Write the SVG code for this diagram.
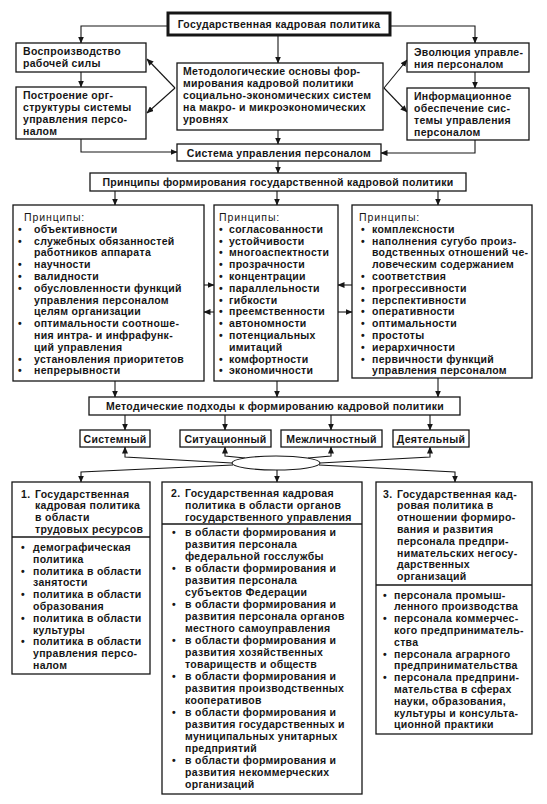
<svg xmlns="http://www.w3.org/2000/svg" width="547" height="804" viewBox="0 0 547 804">
<defs>
<style>
text{font-family:"Liberation Sans",Arial,sans-serif;font-size:10.5px;font-weight:bold;letter-spacing:0.3px;fill:#161616}
text.h{font-weight:normal;letter-spacing:0.9px}
.b{fill:#fff;stroke:#161616;stroke-width:1.3}
.thick{fill:#fff;stroke:#161616;stroke-width:3}
.dv{stroke:#161616;stroke-width:1.3}
.c path{fill:none;stroke:#161616;stroke-width:1.1}
.c .a{marker-end:url(#ah)}
.m{text-anchor:middle}
</style>
<marker id="ah" markerWidth="7" markerHeight="6" refX="6.5" refY="3" orient="auto" markerUnits="userSpaceOnUse">
<path d="M0,0 L7,3 L0,6 z" fill="#161616"/>
</marker>
</defs>
<rect width="547" height="804" fill="#fff"/>

<g class="c" id="connectors">
<path class="a" d="M168,26 H81 V43"/>
<path class="a" d="M390,26 H475 V43"/>
<path class="a" d="M278,36 V63"/>
<path class="a" d="M81,72 V87"/>
<path class="a" d="M475,72 V88"/>
<path class="a" d="M81,139 V152 H177"/>
<path class="a" d="M475,140 V153 H381"/>
<path class="a" d="M175,88 L147,59"/>
<path class="a" d="M175,88 L147,113"/>
<path class="a" d="M384,88 L407,60"/>
<path class="a" d="M384,88 L407,112"/>
<path class="a" d="M278,130 V144"/>
<path class="a" d="M278,161 V173"/>
<path class="a" d="M115,191 V205"/>
<path class="a" d="M277,191 V205"/>
<path class="a" d="M438,191 V205"/>
<path class="a" d="M204,285 H214"/>
<path class="a" d="M214,312 H204"/>
<path class="a" d="M352,285 H338"/>
<path class="a" d="M338,312 H352"/>
<path class="a" d="M115,381 V397"/>
<path class="a" d="M277,381 V397"/>
<path class="a" d="M438,378 V397"/>
<path class="a" d="M125,415 V430"/>
<path class="a" d="M225,415 V430"/>
<path class="a" d="M331,415 V430"/>
<path class="a" d="M430,415 V430"/>
<path class="a" d="M232,463 L125,457 V447"/>
<path class="a" d="M245,458 L225,456 V447"/>
<path class="a" d="M308,458 L331,456 V447"/>
<path class="a" d="M320,463 L430,457 V447"/>
<path class="a" d="M233,465 L81,472 V482"/>
<path class="a" d="M277,470 V482"/>
<path class="a" d="M319,465 L455,472 V482"/>
<ellipse cx="276" cy="463" rx="44" ry="7" fill="#fff" stroke="#161616" stroke-width="1.1"/>
</g>

<g id="title">
<rect class="thick" x="168" y="13" width="222" height="22"/>
<text class="m" x="279" y="28">Государственная кадровая политика</text>
</g>

<g id="reproduction">
<rect class="b" x="16" y="43" width="130" height="29"/>
<text x="23" y="55">Воспроизводство</text>
<text x="23" y="67">рабочей силы</text>
</g>

<g id="orgstructure">
<rect class="b" x="16" y="87" width="130" height="52"/>
<text x="23" y="99">Построение орг-</text>
<text x="23" y="111">структуры системы</text>
<text x="23" y="123">управления персо-</text>
<text x="23" y="135">налом</text>
</g>

<g id="methodology">
<rect class="b" x="177" y="63" width="206" height="67"/>
<text x="183" y="75">Методологические основы фор-</text>
<text x="183" y="87">мирования кадровой политики</text>
<text x="183" y="99">социально-экономических систем</text>
<text x="183" y="111">на макро- и микроэкономических</text>
<text x="183" y="123">уровнях</text>
</g>

<g id="evolution">
<rect class="b" x="407" y="43" width="122" height="29"/>
<text x="414" y="56">Эволюция управле-</text>
<text x="414" y="68">ния персоналом</text>
</g>

<g id="infosupport">
<rect class="b" x="407" y="88" width="122" height="52"/>
<text x="414" y="100">Информационное</text>
<text x="414" y="112">обеспечение сис-</text>
<text x="414" y="124">темы управления</text>
<text x="414" y="136">персоналом</text>
</g>

<g id="system">
<rect class="b" x="177" y="144" width="204" height="17"/>
<text class="m" x="279" y="156.5">Система управления персоналом</text>
</g>

<g id="principles-title">
<rect class="b" x="90" y="173" width="376" height="18"/>
<text class="m" x="278" y="186">Принципы формирования государственной кадровой политики</text>
</g>

<g id="principles-left">
<rect class="b" x="13" y="205" width="191" height="176"/>
<text class="h" x="24" y="221">Принципы:</text>
<text y="232.8"><tspan x="18">•</tspan><tspan x="34">объективности</tspan></text>
<text y="244.6"><tspan x="18">•</tspan><tspan x="34">служебных обязанностей</tspan></text>
<text x="34" y="256.4">работников аппарата</text>
<text y="268.2"><tspan x="18">•</tspan><tspan x="34">научности</tspan></text>
<text y="280"><tspan x="18">•</tspan><tspan x="34">валидности</tspan></text>
<text y="291.8"><tspan x="18">•</tspan><tspan x="34">обусловленности функций</tspan></text>
<text x="34" y="303.6">управления персоналом</text>
<text x="34" y="315.4">целям организации</text>
<text y="327.2"><tspan x="18">•</tspan><tspan x="34">оптимальности соотноше-</tspan></text>
<text x="34" y="339">ния интра- и инфрафунк-</text>
<text x="34" y="350.8">ций управления</text>
<text y="362.6"><tspan x="18">•</tspan><tspan x="34">установления приоритетов</tspan></text>
<text y="374.4"><tspan x="18">•</tspan><tspan x="34">непрерывности</tspan></text>
</g>

<g id="principles-middle">
<rect class="b" x="214" y="205" width="124" height="176"/>
<text class="h" x="219" y="221">Принципы:</text>
<text y="232.8"><tspan x="219">•</tspan><tspan x="229">согласованности</tspan></text>
<text y="244.6"><tspan x="219">•</tspan><tspan x="229">устойчивости</tspan></text>
<text y="256.4"><tspan x="219">•</tspan><tspan x="229">многоаспектности</tspan></text>
<text y="268.2"><tspan x="219">•</tspan><tspan x="229">прозрачности</tspan></text>
<text y="280"><tspan x="219">•</tspan><tspan x="229">концентрации</tspan></text>
<text y="291.8"><tspan x="219">•</tspan><tspan x="229">параллельности</tspan></text>
<text y="303.6"><tspan x="219">•</tspan><tspan x="229">гибкости</tspan></text>
<text y="315.4"><tspan x="219">•</tspan><tspan x="229">преемственности</tspan></text>
<text y="327.2"><tspan x="219">•</tspan><tspan x="229">автономности</tspan></text>
<text y="339"><tspan x="219">•</tspan><tspan x="229">потенциальных</tspan></text>
<text x="229" y="350.8">имитаций</text>
<text y="362.6"><tspan x="219">•</tspan><tspan x="229">комфортности</tspan></text>
<text y="374.4"><tspan x="219">•</tspan><tspan x="229">экономичности</tspan></text>
</g>

<g id="principles-right">
<rect class="b" x="352" y="205" width="180" height="173"/>
<text class="h" x="359" y="221">Принципы:</text>
<text y="232.8"><tspan x="361">•</tspan><tspan x="372">комплексности</tspan></text>
<text y="244.6"><tspan x="361">•</tspan><tspan x="372">наполнения сугубо произ-</tspan></text>
<text x="372" y="256.4">водственных отношений че-</text>
<text x="372" y="268.2">ловеческим содержанием</text>
<text y="280"><tspan x="361">•</tspan><tspan x="372">соответствия</tspan></text>
<text y="291.8"><tspan x="361">•</tspan><tspan x="372">прогрессивности</tspan></text>
<text y="303.6"><tspan x="361">•</tspan><tspan x="372">перспективности</tspan></text>
<text y="315.4"><tspan x="361">•</tspan><tspan x="372">оперативности</tspan></text>
<text y="327.2"><tspan x="361">•</tspan><tspan x="372">оптимальности</tspan></text>
<text y="339"><tspan x="361">•</tspan><tspan x="372">простоты</tspan></text>
<text y="350.8"><tspan x="361">•</tspan><tspan x="372">иерархичности</tspan></text>
<text y="362.6"><tspan x="361">•</tspan><tspan x="372">первичности функций</tspan></text>
<text x="372" y="374.4">управления персоналом</text>
</g>

<g id="approaches-title">
<rect class="b" x="89" y="397" width="371" height="18"/>
<text class="m" x="275" y="410">Методические подходы к формированию кадровой политики</text>
</g>

<g id="systemic">
<rect class="b" x="80" y="430" width="70" height="17"/>
<text class="m" x="115" y="442.5">Системный</text>
</g>
<g id="situational">
<rect class="b" x="180" y="430" width="91" height="17"/>
<text class="m" x="225.5" y="442.5">Ситуационный</text>
</g>
<g id="interpersonal">
<rect class="b" x="281" y="430" width="101" height="17"/>
<text class="m" x="331.5" y="442.5">Межличностный</text>
</g>
<g id="activity">
<rect class="b" x="393" y="430" width="76" height="17"/>
<text class="m" x="431" y="442.5">Деятельный</text>
</g>

<g id="policy-1">
<rect class="b" x="12" y="482" width="138" height="192"/>
<line class="dv" x1="12" y1="537" x2="150" y2="537"/>
<text y="497.5"><tspan x="21">1.</tspan><tspan x="35">Государственная</tspan></text>
<text x="35" y="509.3">кадровая политика</text>
<text x="35" y="521.1">в области</text>
<text x="35" y="532.9">трудовых ресурсов</text>
<text y="551"><tspan x="21">•</tspan><tspan x="33">демографическая</tspan></text>
<text x="33" y="562.8">политика</text>
<text y="574.6"><tspan x="21">•</tspan><tspan x="33">политика в области</tspan></text>
<text x="33" y="586.4">занятости</text>
<text y="598.2"><tspan x="21">•</tspan><tspan x="33">политика в области</tspan></text>
<text x="33" y="610">образования</text>
<text y="621.8"><tspan x="21">•</tspan><tspan x="33">политика в области</tspan></text>
<text x="33" y="633.6">культуры</text>
<text y="645.4"><tspan x="21">•</tspan><tspan x="33">политика в области</tspan></text>
<text x="33" y="657.2">управления персо-</text>
<text x="33" y="669">налом</text>
</g>

<g id="policy-2">
<rect class="b" x="162" y="482" width="200" height="312"/>
<line class="dv" x1="162" y1="524" x2="362" y2="524"/>
<text y="497"><tspan x="171">2.</tspan><tspan x="185">Государственная кадровая</tspan></text>
<text x="185" y="508.8">политика в области органов</text>
<text x="185" y="520.6">государственного управления</text>
<text y="536"><tspan x="172">•</tspan><tspan x="185">в области формирования и</tspan></text>
<text x="185" y="548">развития персонала</text>
<text x="185" y="560">федеральной госслужбы</text>
<text y="572"><tspan x="172">•</tspan><tspan x="185">в области формирования и</tspan></text>
<text x="185" y="584">развития персонала</text>
<text x="185" y="596">субъектов Федерации</text>
<text y="608"><tspan x="172">•</tspan><tspan x="185">в области формирования и</tspan></text>
<text x="185" y="620">развития персонала органов</text>
<text x="185" y="632">местного самоуправления</text>
<text y="644"><tspan x="172">•</tspan><tspan x="185">в области формирования и</tspan></text>
<text x="185" y="656">развития хозяйственных</text>
<text x="185" y="668">товариществ и обществ</text>
<text y="680"><tspan x="172">•</tspan><tspan x="185">в области формирования и</tspan></text>
<text x="185" y="692">развития производственных</text>
<text x="185" y="704">кооперативов</text>
<text y="716"><tspan x="172">•</tspan><tspan x="185">в области формирования и</tspan></text>
<text x="185" y="728">развития государственных и</text>
<text x="185" y="740">муниципальных унитарных</text>
<text x="185" y="752">предприятий</text>
<text y="764"><tspan x="172">•</tspan><tspan x="185">в области формирования и</tspan></text>
<text x="185" y="776">развития некоммерческих</text>
<text x="185" y="788">организаций</text>
</g>

<g id="policy-3">
<rect class="b" x="376" y="482" width="156" height="252"/>
<line class="dv" x1="376" y1="585" x2="532" y2="585"/>
<text y="497.5"><tspan x="383">3.</tspan><tspan x="397">Государственная кад-</tspan></text>
<text x="397" y="509.3">ровая политика в</text>
<text x="397" y="521.1">отношении формиро-</text>
<text x="397" y="532.9">вания и развития</text>
<text x="397" y="544.7">персонала предпри-</text>
<text x="397" y="556.5">нимательских негосу-</text>
<text x="397" y="568.3">дарственных</text>
<text x="397" y="580.1">организаций</text>
<text y="598.5"><tspan x="383">•</tspan><tspan x="394">персонала промыш-</tspan></text>
<text x="394" y="610.3">ленного производства</text>
<text y="622.1"><tspan x="383">•</tspan><tspan x="394">персонала коммерчес-</tspan></text>
<text x="394" y="633.9">кого предприниматель-</text>
<text x="394" y="645.7">ства</text>
<text y="657.5"><tspan x="383">•</tspan><tspan x="394">персонала аграрного</tspan></text>
<text x="394" y="669.3">предпринимательства</text>
<text y="681.1"><tspan x="383">•</tspan><tspan x="394">персонала предприни-</tspan></text>
<text x="394" y="692.9">мательства в сферах</text>
<text x="394" y="704.7">науки, образования,</text>
<text x="394" y="716.5">культуры и консульта-</text>
<text x="394" y="728.3">ционной практики</text>
</g>
</svg>
